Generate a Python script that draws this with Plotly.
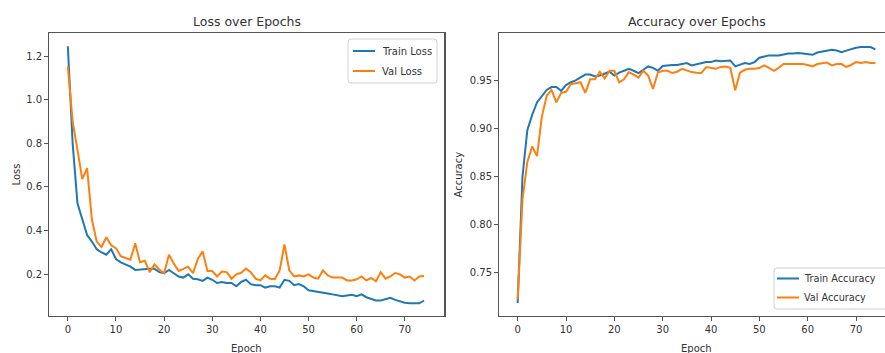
import plotly.graph_objects as go

# ---------------- data ----------------
epochs = list(range(75))

train_loss = [1.245, 0.80, 0.525, 0.45, 0.38, 0.35, 0.315, 0.30, 0.29, 0.315,
              0.27, 0.255, 0.245, 0.235, 0.22, 0.222, 0.225, 0.225, 0.225, 0.21,
              0.205, 0.22, 0.205, 0.19, 0.185, 0.20, 0.18, 0.177, 0.17, 0.185,
              0.175, 0.16, 0.165, 0.16, 0.16, 0.145, 0.165, 0.175, 0.155, 0.15,
              0.15, 0.139, 0.145, 0.145, 0.139, 0.175, 0.17, 0.15, 0.155, 0.145,
              0.127, 0.124, 0.12, 0.115, 0.112, 0.108, 0.103, 0.10, 0.103, 0.106,
              0.10, 0.108, 0.095, 0.086, 0.08, 0.08, 0.086, 0.092, 0.083, 0.076,
              0.07, 0.067, 0.067, 0.067, 0.08]

val_loss = [1.154, 0.90, 0.77, 0.636, 0.686, 0.45, 0.35, 0.325, 0.37, 0.333,
            0.32, 0.283, 0.275, 0.267, 0.342, 0.255, 0.262, 0.21, 0.245, 0.222,
            0.205, 0.29, 0.25, 0.215, 0.225, 0.235, 0.205, 0.27, 0.305, 0.215,
            0.215, 0.19, 0.213, 0.21, 0.18, 0.20, 0.207, 0.226, 0.21, 0.18,
            0.172, 0.195, 0.18, 0.178, 0.218, 0.337, 0.218, 0.19, 0.195, 0.19,
            0.20, 0.185, 0.18, 0.218, 0.195, 0.185, 0.185, 0.185, 0.172, 0.172,
            0.177, 0.19, 0.172, 0.183, 0.168, 0.21, 0.18, 0.19, 0.206, 0.20,
            0.185, 0.19, 0.172, 0.19, 0.192]

train_acc = [0.718, 0.85, 0.898, 0.914, 0.927, 0.933, 0.94, 0.943, 0.943, 0.939,
             0.945, 0.948, 0.95, 0.953, 0.956, 0.956, 0.954, 0.955, 0.957, 0.959,
             0.955, 0.958, 0.96, 0.962, 0.96, 0.9576, 0.961, 0.9645, 0.963, 0.960,
             0.965, 0.9656, 0.966, 0.966, 0.967, 0.968, 0.9656, 0.967, 0.968, 0.969,
             0.969, 0.9707, 0.970, 0.970, 0.9707, 0.9645, 0.966, 0.968, 0.967, 0.969,
             0.9735, 0.975, 0.976, 0.976, 0.976, 0.977, 0.978, 0.978, 0.9784, 0.978,
             0.977, 0.9766, 0.979, 0.980, 0.981, 0.9818, 0.981, 0.9794, 0.981, 0.9829,
             0.984, 0.9846, 0.9846, 0.9846, 0.9822]

val_acc = [0.722, 0.826, 0.865, 0.881, 0.871, 0.912, 0.934, 0.94, 0.927, 0.937,
           0.938, 0.946, 0.947, 0.948, 0.937, 0.951, 0.951, 0.959, 0.952, 0.96,
           0.96, 0.948, 0.951, 0.9586, 0.956, 0.9528, 0.960, 0.955, 0.941, 0.958,
           0.960, 0.960, 0.9576, 0.959, 0.962, 0.960, 0.9586, 0.958, 0.9576, 0.9638,
           0.963, 0.962, 0.964, 0.9645, 0.963, 0.9396, 0.958, 0.961, 0.962, 0.962,
           0.9628, 0.9656, 0.963, 0.960, 0.963, 0.967, 0.967, 0.967, 0.967, 0.967,
           0.966, 0.9645, 0.967, 0.968, 0.9685, 0.9656, 0.967, 0.967, 0.964, 0.966,
           0.969, 0.968, 0.969, 0.968, 0.968]

x_ticks = [0, 10, 20, 30, 40, 50, 60, 70]
loss_ticks = [0.2, 0.4, 0.6, 0.8, 1.0, 1.2]
acc_ticks = [0.75, 0.80, 0.85, 0.90, 0.95]

BLUE = "#1f77b4"
ORANGE = "#ff7f0e"
FONT = "DejaVu Sans"
AXC = "#555555"
TXT = "#333333"

W, H = 885, 353


def px(p):
    return p / W


def py(p):
    return 1 - p / H


fig = go.Figure()
fig.add_trace(go.Scatter(x=epochs, y=train_loss, name="Train Loss", mode="lines",
                         line=dict(color=BLUE, width=2), xaxis="x", yaxis="y"))
fig.add_trace(go.Scatter(x=epochs, y=val_loss, name="Val Loss", mode="lines",
                         line=dict(color=ORANGE, width=2), xaxis="x", yaxis="y"))
fig.add_trace(go.Scatter(x=epochs, y=train_acc, name="Train Accuracy", mode="lines",
                         line=dict(color=BLUE, width=2), xaxis="x2", yaxis="y2"))
fig.add_trace(go.Scatter(x=epochs, y=val_acc, name="Val Accuracy", mode="lines",
                         line=dict(color=ORANGE, width=2), xaxis="x2", yaxis="y2"))

axis_common = dict(showgrid=False, zeroline=False, showline=True, linecolor=AXC,
                   linewidth=1.2, ticks="outside", ticklen=4, tickwidth=1,
                   tickcolor=AXC, tickfont=dict(family=FONT, size=10, color=TXT))

ydom = [py(315.7), py(33.3)]

fig.update_layout(
    width=W, height=H, autosize=False,
    margin=dict(l=0, r=0, t=0, b=0, autoexpand=False),
    paper_bgcolor="white", plot_bgcolor="white", showlegend=False,
    xaxis=dict(domain=[px(49.3), px(444.3)], range=[-3.85, 78.2],
               tickvals=x_ticks, ticktext=[str(t) for t in x_ticks],
               mirror=True, anchor="y", **axis_common),
    yaxis=dict(domain=ydom, range=[0.0104, 1.304], tickvals=loss_ticks,
               ticktext=["%.1f" % t for t in loss_ticks],
               mirror=True, anchor="x", **axis_common),
    xaxis2=dict(domain=[px(499.3), 1.0], range=[-3.8, 76.0],
                tickvals=x_ticks, ticktext=[str(t) for t in x_ticks],
                mirror=True, anchor="y2", **axis_common),
    yaxis2=dict(domain=ydom, range=[0.7048, 0.999], tickvals=acc_ticks,
                ticktext=["%.2f" % t for t in acc_ticks],
                mirror=False, anchor="x2", **axis_common),
)

annotations = []


def text(s, x, y, size=10, xanchor="center", yanchor="middle", angle=0):
    annotations.append(dict(text=s, x=px(x), y=py(y), xref="paper", yref="paper",
                            xanchor=xanchor, yanchor=yanchor, showarrow=False,
                            textangle=angle,
                            font=dict(family=FONT, size=size, color=TXT)))


# titles and axis labels
text("Loss over Epochs", 246.8, 21, size=12.5)
text("Accuracy over Epochs", 696.7, 21, size=12.5)
text("Loss", 16, 174.5, angle=-90)
text("Accuracy", 458, 174.5, angle=-90)
text("Epoch", 246.8, 340.5, yanchor="top")
text("Epoch", 696.7, 340.5, yanchor="top")

shapes = []


def rounded_rect(x0, y0, x1, y1, r=3):
    X0, X1 = px(x0), px(x1)
    Y0, Y1 = py(y0), py(y1)
    rx, ry = r / W, r / H
    path = (f"M {X0+rx},{Y0} L {X1-rx},{Y0} Q {X1},{Y0} {X1},{Y0-ry} "
            f"L {X1},{Y1+ry} Q {X1},{Y1} {X1-rx},{Y1} L {X0+rx},{Y1} "
            f"Q {X0},{Y1} {X0},{Y1+ry} L {X0},{Y0-ry} Q {X0},{Y0} {X0+rx},{Y0} Z")
    shapes.append(dict(type="path", path=path, xref="paper", yref="paper",
                       fillcolor="rgba(255,255,255,0.85)",
                       line=dict(color="#d0d0d0", width=1)))


def legend(entries, box, x_line, x_text, rows, size=10):
    rounded_rect(*box)
    for (name, color), yy in zip(entries, rows):
        shapes.append(dict(type="line", xref="paper", yref="paper",
                           x0=px(x_line[0]), x1=px(x_line[1]), y0=py(yy), y1=py(yy),
                           line=dict(color=color, width=2)))
        text(name, x_text, yy, size=size, xanchor="left")


legend([(fig.data[0].name, BLUE), (fig.data[1].name, ORANGE)],
       (348, 39, 437, 83), (353, 375), 380, (51, 71))
legend([(fig.data[2].name, BLUE), (fig.data[3].name, ORANGE)],
       (774, 268, 900, 309), (777, 799), 802, (278.5, 297.5), size=9.7)

fig.update_layout(annotations=annotations, shapes=shapes)

fig.write_html("out.html",
               config={"displayModeBar": False, "staticPlot": True},
               post_script="document.body.style.margin='0';"
                           "document.body.style.overflow='hidden';")
